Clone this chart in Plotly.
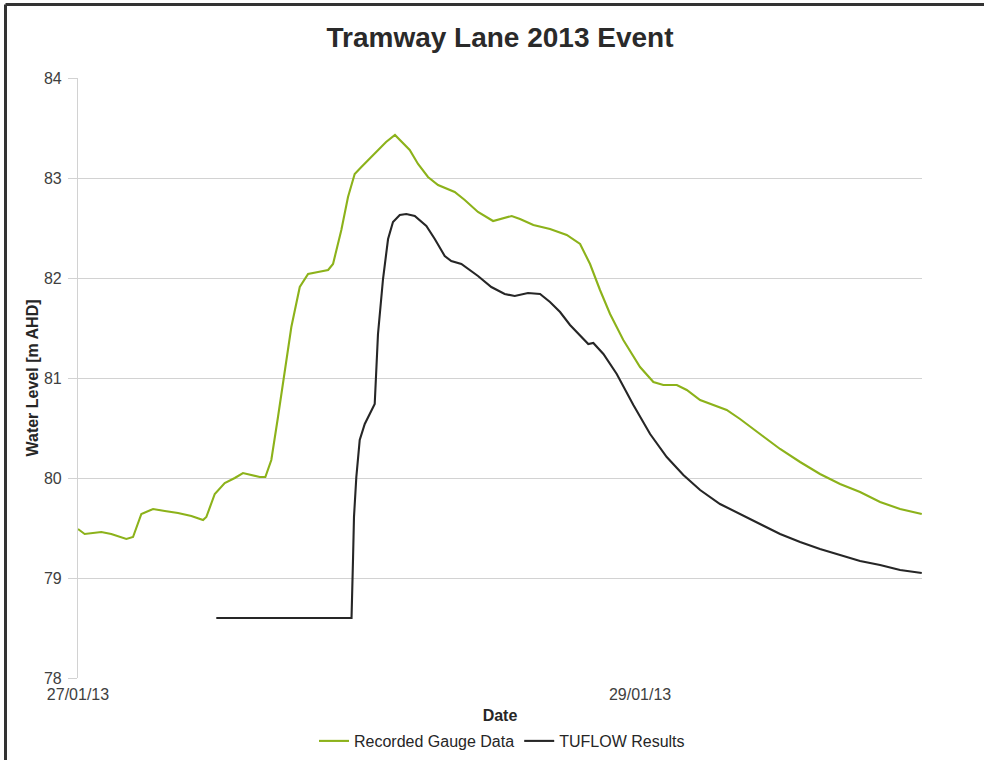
import pandas as pd
import plotly.graph_objects as go

# Hours after 27/01/13 00:00 and water levels [m AHD]
gauge_hours = [0, 0.57, 1.99, 2.84, 4.13, 4.70, 5.41, 6.41, 7.41, 8.54, 9.68, 10.68, 10.96,
               11.68, 12.53, 13.39, 14.09, 14.80, 15.52, 16.00, 16.51, 17.08, 17.65, 18.22,
               18.94, 19.65, 20.50, 21.36, 21.78, 22.49, 23.06, 23.63, 24.20, 25.05, 25.62,
               26.31, 27.07, 28.33, 29.04, 29.89, 30.75, 32.17, 33.03, 34.16, 35.45, 36.15,
               37.04, 37.75, 38.89, 40.31, 41.74, 42.88, 43.73, 44.58, 45.44, 46.57, 48.00,
               49.14, 49.99, 51.14, 51.99, 53.13, 54.26, 55.40, 56.54, 58.25, 59.96, 61.67,
               63.37, 65.08, 66.79, 68.50, 70.21, 72.06]
gauge_level = [79.49, 79.44, 79.46, 79.44, 79.39, 79.41, 79.64, 79.69, 79.67, 79.65, 79.62,
               79.58, 79.61, 79.84, 79.95, 80.00, 80.05, 80.03, 80.01, 80.01, 80.18, 80.61,
               81.08, 81.51, 81.91, 82.04, 82.06, 82.08, 82.14, 82.48, 82.81, 83.04, 83.11,
               83.21, 83.28, 83.36, 83.43, 83.28, 83.14, 83.01, 82.93, 82.86, 82.78, 82.66,
               82.57, 82.59, 82.62, 82.59, 82.53, 82.49, 82.43, 82.34, 82.14, 81.88, 81.64,
               81.38, 81.11, 80.96, 80.93, 80.93, 80.88, 80.78, 80.73, 80.68, 80.59, 80.44,
               80.29, 80.16, 80.04, 79.94, 79.86, 79.76, 79.69, 79.64]

tuflow_hours = [11.81, 23.36, 23.49, 23.57, 23.77, 24.06, 24.49, 25.05, 25.34, 25.62, 26.05,
                26.48, 26.90, 27.48, 28.04, 28.76, 29.75, 30.47, 31.32, 31.88, 32.74, 34.16,
                35.30, 36.44, 37.30, 38.43, 39.46, 40.31, 41.17, 42.02, 42.88, 43.58, 44.01,
                44.87, 46.01, 47.43, 48.86, 50.28, 51.70, 53.13, 54.83, 56.54, 58.25, 59.96,
                61.67, 63.37, 65.08, 66.79, 68.50, 70.21, 72.06]
tuflow_level = [78.60, 78.60, 79.20, 79.61, 80.01, 80.38, 80.54, 80.68, 80.74, 81.44, 81.99,
                82.39, 82.56, 82.63, 82.64, 82.62, 82.52, 82.39, 82.22, 82.17, 82.14, 82.02,
                81.91, 81.84, 81.82, 81.85, 81.84, 81.76, 81.66, 81.53, 81.43, 81.34, 81.35,
                81.24, 81.04, 80.73, 80.44, 80.21, 80.03, 79.88, 79.74, 79.64, 79.54, 79.44,
                79.36, 79.29, 79.23, 79.17, 79.13, 79.08, 79.05]

x_tick_labels = ["27/01/13", "29/01/13"]
x_tick_dates = ["2013-01-27 00:00", "2013-01-29 00:00"]
y_ticks = [78, 79, 80, 81, 82, 83, 84]

base = pd.Timestamp("2013-01-27 00:00")
gauge_x = [base + pd.Timedelta(hours=h) for h in gauge_hours]
tuflow_x = [base + pd.Timedelta(hours=h) for h in tuflow_hours]

FONT = "Liberation Sans, Arial, sans-serif"
W, H = 984, 760
L, R, T, B = 78, 62, 78, 82
PW, PH = W - L - R, H - T - B

fig = go.Figure()
fig.add_trace(go.Scatter(x=gauge_x, y=gauge_level, mode="lines",
                         name="Recorded Gauge Data",
                         line=dict(color="#8cb21a", width=2.1)))
fig.add_trace(go.Scatter(x=tuflow_x, y=tuflow_level, mode="lines",
                         name="TUFLOW Results",
                         line=dict(color="#262626", width=2.1)))

fig.update_layout(
    width=W, height=H,
    margin=dict(l=L, r=R, t=T, b=B, autoexpand=False),
    paper_bgcolor="white", plot_bgcolor="white",
    font=dict(family=FONT, color="#404040", size=16),
    title=dict(text="<b>Tramway Lane 2013 Event</b>", x=500 / W, xanchor="center",
               y=1 - 37 / H, yanchor="middle",
               font=dict(family=FONT, size=28, color="#2a2a2a")),
    showlegend=True,
    legend=dict(orientation="h", x=502 / W, xanchor="center", xref="container",
                y=1 - 741 / H, yanchor="middle", yref="container",
                font=dict(family=FONT, size=16, color="#262626"),
                itemwidth=30, tracegroupgap=0, bgcolor="rgba(0,0,0,0)"),
    xaxis=dict(
        type="date", automargin=False,
        range=[base, base + pd.Timedelta(hours=72.08)],
        tickmode="array", tickvals=x_tick_dates, ticktext=x_tick_labels,
        showgrid=False, showline=False, zeroline=False,
        ticks="", ticklabelstandoff=5,
        tickfont=dict(family=FONT, size=16, color="#404040"),
        title=dict(text="<b>Date</b>", standoff=10,
                   font=dict(family=FONT, size=16, color="#262626")),
    ),
    yaxis=dict(
        range=[78, 84], tickmode="array", tickvals=y_ticks, automargin=False,
        showgrid=True, gridcolor="#d2d2d2", gridwidth=1.2,
        showline=True, linecolor="#d2d2d2", linewidth=1.2,
        zeroline=False, ticks="outside", ticklen=9, tickcolor="#d2d2d2",
        ticklabelstandoff=3,
        tickfont=dict(family=FONT, size=16, color="#404040"),
        title=dict(text="<b>Water Level [m AHD]</b>", standoff=1,
                   font=dict(family=FONT, size=16, color="#262626")),
    ),
)

# Frame of the original figure (only left and top edges are visible)
fx = (5.5 - L) / PW
fy = 1 + (T - 4.5) / PH
fig.add_shape(type="line", xref="paper", yref="paper",
              x0=fx, x1=fx, y0=fy, y1=-(B + 20) / PH,
              line=dict(color="#333333", width=3), layer="above")
fig.add_shape(type="line", xref="paper", yref="paper",
              x0=fx, x1=(W - L + 20) / PW, y0=fy, y1=fy,
              line=dict(color="#333333", width=3), layer="above")

fig.write_html("out.html", config={"displayModeBar": False},
               post_script="document.body.style.margin='0';document.body.style.overflow='hidden';")
